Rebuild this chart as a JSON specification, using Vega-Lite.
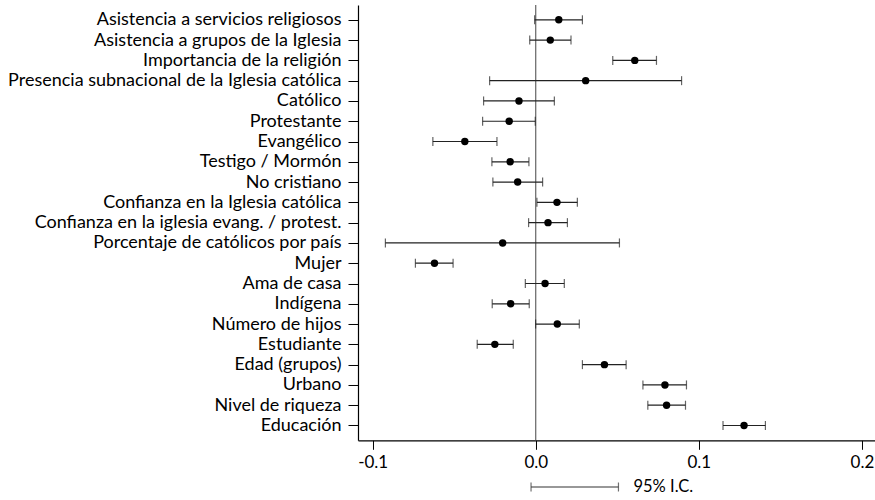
{
  "$schema": "https://vega.github.io/schema/vega-lite/v6.json",
  "padding": {"left": 7, "top": 4, "right": 0, "bottom": 0},
  "background": "white",
  "config": {
    "view": {"stroke": null},
    "font": "Lato",
    "axis": {"domainColor": "black", "tickColor": "black", "labelColor": "black", "grid": false, "title": null, "labelFont": "Lato", "labelLimit": 500}
  },
  "datasets": {
    "coefs": [
      {"term": "Asistencia a servicios religiosos", "est": 0.0141, "lo": -0.0007, "hi": 0.0286},
      {"term": "Asistencia a grupos de la Iglesia", "est": 0.0089, "lo": -0.0037, "hi": 0.0216},
      {"term": "Importancia de la religión", "est": 0.0607, "lo": 0.0472, "hi": 0.0740},
      {"term": "Presencia subnacional de la Iglesia católica", "est": 0.0306, "lo": -0.0283, "hi": 0.0894},
      {"term": "Católico", "est": -0.0103, "lo": -0.0320, "hi": 0.0114},
      {"term": "Protestante", "est": -0.0163, "lo": -0.0326, "hi": -0.0003},
      {"term": "Evangélico", "est": -0.0435, "lo": -0.0631, "hi": -0.0238},
      {"term": "Testigo / Mormón", "est": -0.0157, "lo": -0.0269, "hi": -0.0042},
      {"term": "No cristiano", "est": -0.0111, "lo": -0.0263, "hi": 0.0042},
      {"term": "Confianza en la Iglesia católica", "est": 0.0130, "lo": 0.0007, "hi": 0.0255},
      {"term": "Confianza en la iglesia evang. / protest.", "est": 0.0075, "lo": -0.0044, "hi": 0.0194},
      {"term": "Porcentaje de católicos por país", "est": -0.0203, "lo": -0.0922, "hi": 0.0513},
      {"term": "Mujer", "est": -0.0621, "lo": -0.0738, "hi": -0.0507},
      {"term": "Ama de casa", "est": 0.0057, "lo": -0.0064, "hi": 0.0175},
      {"term": "Indígena", "est": -0.0154, "lo": -0.0267, "hi": -0.0040},
      {"term": "Número de hijos", "est": 0.0132, "lo": -0.0001, "hi": 0.0267},
      {"term": "Estudiante", "est": -0.0251, "lo": -0.0359, "hi": -0.0138},
      {"term": "Edad (grupos)", "est": 0.0421, "lo": 0.0286, "hi": 0.0554},
      {"term": "Urbano", "est": 0.0792, "lo": 0.0657, "hi": 0.0924},
      {"term": "Nivel de riqueza", "est": 0.0802, "lo": 0.0687, "hi": 0.0918},
      {"term": "Educación", "est": 0.1277, "lo": 0.1148, "hi": 0.1408}
    ],
    "legendrow": [
      {"row": "ic", "lo": -0.0029, "hi": 0.0507, "label": "95% I.C."}
    ],
    "zero": [{"v": 0}]
  },
  "vconcat": [
    {
      "width": 516.7,
      "height": 435.3,
      "layer": [
        {
          "data": {"name": "zero"},
          "mark": {"type": "rule", "color": "#444", "strokeWidth": 1},
          "encoding": {
            "x": {"field": "v", "type": "quantitative", "scale": {"domain": [-0.109, 0.2078], "nice": false, "zero": false},
                  "axis": {"values": [-0.1, 0, 0.1, 0.2], "labelExpr": "replace(format(datum.value, '.1f'), '−', '-')", "tickSize": 9, "labelPadding": 5, "labelFontSize": 17, "domainWidth": 1.2}}
          }
        },
        {
          "data": {"name": "coefs"},
          "mark": {"type": "rule", "color": "#222", "strokeWidth": 1.2},
          "encoding": {
            "y": {"field": "term", "type": "nominal", "sort": null, "scale": {"type": "point", "padding": 0.73},
                  "axis": {"tickSize": 10, "labelPadding": 7, "labelFontSize": 18, "domainWidth": 1.2}},
            "x": {"field": "lo", "type": "quantitative"},
            "x2": {"field": "hi"}
          }
        },
        {
          "data": {"name": "coefs"},
          "mark": {"type": "tick", "color": "#222", "size": 9, "thickness": 1.2},
          "encoding": {
            "y": {"field": "term", "type": "nominal", "sort": null},
            "x": {"field": "lo", "type": "quantitative"}
          }
        },
        {
          "data": {"name": "coefs"},
          "mark": {"type": "tick", "color": "#222", "size": 9, "thickness": 1.2},
          "encoding": {
            "y": {"field": "term", "type": "nominal", "sort": null},
            "x": {"field": "hi", "type": "quantitative"}
          }
        },
        {
          "data": {"name": "coefs"},
          "mark": {"type": "circle", "color": "black", "size": 55, "opacity": 1},
          "encoding": {
            "y": {"field": "term", "type": "nominal", "sort": null},
            "x": {"field": "est", "type": "quantitative"}
          }
        }
      ]
    },
    {
      "width": 516.7,
      "height": 16,
      "data": {"name": "legendrow"},
      "layer": [
        {
          "mark": {"type": "rule", "color": "#333", "strokeWidth": 1.2},
          "encoding": {
            "y": {"field": "row", "type": "nominal", "axis": null},
            "x": {"field": "lo", "type": "quantitative", "scale": {"domain": [-0.109, 0.2078], "nice": false, "zero": false}, "axis": null},
            "x2": {"field": "hi"}
          }
        },
        {
          "mark": {"type": "tick", "color": "#333", "size": 9, "thickness": 1.2},
          "encoding": {
            "y": {"field": "row", "type": "nominal", "axis": null},
            "x": {"field": "lo", "type": "quantitative", "axis": null}
          }
        },
        {
          "mark": {"type": "tick", "color": "#333", "size": 9, "thickness": 1.2},
          "encoding": {
            "y": {"field": "row", "type": "nominal", "axis": null},
            "x": {"field": "hi", "type": "quantitative", "axis": null}
          }
        },
        {
          "mark": {"type": "text", "align": "left", "baseline": "middle", "dx": 15, "fontSize": 16.5, "font": "Lato", "color": "black"},
          "encoding": {
            "y": {"field": "row", "type": "nominal", "axis": null},
            "x": {"field": "hi", "type": "quantitative", "axis": null},
            "text": {"field": "label"}
          }
        }
      ]
    }
  ],
  "spacing": 8
}
